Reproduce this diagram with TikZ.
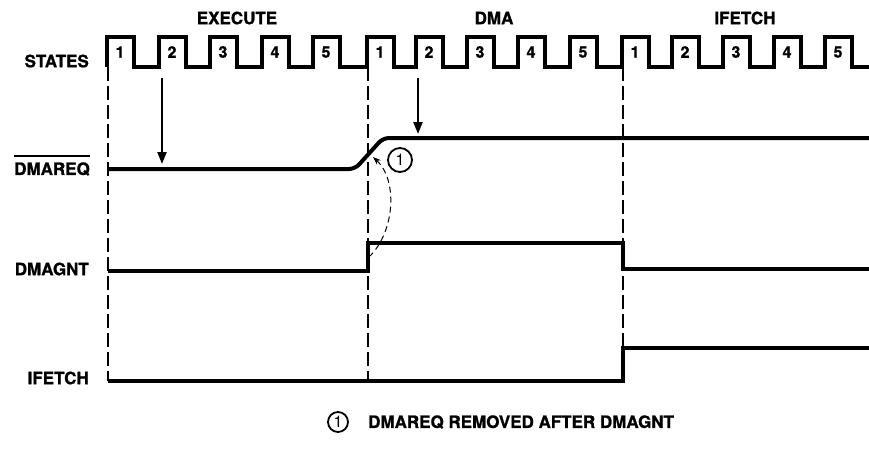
\documentclass[tikz,border=0pt]{standalone}
\usepackage{fontspec}
\setmainfont{TeX Gyre Heros}[BoldFeatures={FakeBold=1}]
\usetikzlibrary{arrows.meta}
\begin{document}
\begin{tikzpicture}[x=1pt,y=-1pt,
  lbl/.style={font=\fontsize{17}{20}\selectfont\bfseries, inner sep=0pt},
  numlbl/.style={font=\fontsize{16}{18}\selectfont\bfseries, inner sep=0pt},
  wave/.style={line width=4pt, line join=miter},
  guide/.style={line width=1.3pt, dash pattern=on 14pt off 5pt},
  marker/.style={line width=2.2pt, -{Triangle[length=12pt,width=9pt]}},
  curv/.style={line width=1pt, dash pattern=on 6pt off 4pt, -{Stealth[length=8pt,width=6pt]}},
  circ/.style={draw, circle, line width=1.8pt, inner sep=0pt, font=\fontsize{16}{17}\selectfont}]
\useasboundingbox[fill=white] (0,0) rectangle (869,448);

% phase labels
\node[lbl] (pexec) at (237,18) {EXECUTE};
\node[lbl] (pdma) at (494,18) {DMA};
\node[lbl] (pifetch) at (745,18) {IFETCH};

% signal labels
\node[lbl, anchor=east] (lstates) at (89,61) {STATES};
\node[lbl, anchor=east] (ldmareq) at (90,169) {DMAREQ};
\draw[line width=1.4pt] ([yshift=6pt]ldmareq.north west) -- ([yshift=6pt]ldmareq.north east);
\node[lbl, anchor=east] (ldmagnt) at (89,269) {DMAGNT};
\node[lbl, anchor=east] (lifetch) at (89,378) {IFETCH};

% clock
\draw[wave] (107,67)
  \foreach \r in {107,159,210,262,313,367,416,467,518,570,622,672,723,774,825} {
    -- (\r,67) -- (\r,37) -- ({\r+27},37) -- ({\r+27},67)
  } -- (869,67);
\foreach \r/\n [count=\i] in {107/1,159/2,210/3,262/4,313/5,367/1,416/2,467/3,518/4,570/5,622/1,672/2,723/3,774/4,825/5}
  \node[numlbl] (num\i) at ({\r+13},52) {\n};

% dashed guide lines
\draw[guide] (108,67) -- (108,381);
\draw[guide] (368,67) -- (368,381);
\draw[guide] (623,67) -- (623,348);

% waveforms
\draw[wave, rounded corners=6pt] (108,169) -- (355,169) -- (383,138) -- (869,138);
\draw[wave] (108,271) -- (368,271) -- (368,243) -- (623,243) -- (623,269) -- (869,269);
\draw[wave] (108,381) -- (623,381) -- (623,348) -- (869,348);

% arrows
\coordinate (a1s) at (162,78);
\coordinate (a1e) at (162,164);
\draw[marker] (a1s) -- (a1e);
\coordinate (a2s) at (418,78);
\coordinate (a2e) at (418,134);
\draw[marker] (a2s) -- (a2e);

% dashed dependency arrow
\coordinate (cs) at (369,257);
\coordinate (ce) at (373,157);
\draw[curv] (cs) .. controls (395,232) and (398,180) .. (ce);
\node[circ, minimum size=24pt] (c1) at (400,160) {1};

% footnote
\node[circ, minimum size=20pt] (fn1) at (338,422) {1};
\node[lbl, anchor=west] (fnt) at (368,422) {DMAREQ REMOVED AFTER DMAGNT};
\end{tikzpicture}
\end{document}
